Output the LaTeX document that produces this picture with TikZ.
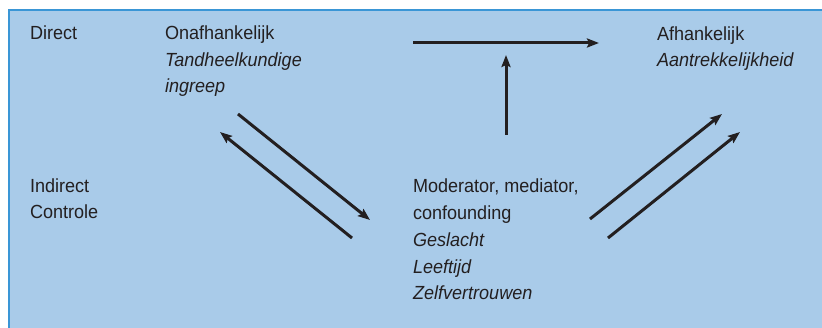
\documentclass[tikz,border=0pt]{standalone}
\usepackage{fontspec}
\setmainfont{Liberation Sans}[FakeStretch=0.95]
\usetikzlibrary{arrows.meta}
\definecolor{panelfill}{HTML}{A9CBE9}
\definecolor{panelborder}{HTML}{3A96D6}
\definecolor{ink}{HTML}{231F20}
\tikzset{
  lbl/.style={anchor=base west, inner sep=0pt, outer sep=0pt, text=ink,
    font=\fontsize{19}{26.8}\selectfont, align=left},
  arr/.style={draw=ink, line width=3pt, -{Stealth[length=12pt,width=9pt,inset=2pt]}},
}
\begin{document}
\begin{tikzpicture}[x=1pt,y=-1pt]
\useasboundingbox (0,0) rectangle (822,328);
\fill[panelfill] (9,10) rectangle (822,328);
\draw[panelborder, line width=2pt] (9,328) -- (9,10) -- (822,10);

% multi-line nodes are placed by the baseline of their last line
\node[lbl] (direct) at (30,40) {Direct};
\node[lbl] (indirect) at (30,219) {Indirect\\Controle};
\node[lbl] (onaf) at (165,93) {Onafhankelijk\\\textit{Tandheelkundige}\\\textit{ingreep}};
\node[lbl] (afh) at (657,67) {Afhankelijk\\\textit{Aantrekkelijkheid}};
\node[lbl] (mod) at (413,300) {Moderator, mediator,\\confounding\\\textit{Geslacht}\\\textit{Leeftijd}\\\textit{Zelfvertrouwen}};

\coordinate (h1) at (413,43);
\coordinate (h2) at (599,43);
\coordinate (v1) at (506,135);
\coordinate (v2) at (506,55);
\coordinate (a1) at (238,114);
\coordinate (a2) at (370,220);
\coordinate (b1) at (352,238);
\coordinate (b2) at (220,132);
\coordinate (c1) at (590,219);
\coordinate (c2) at (722,114);
\coordinate (d1) at (608,238);
\coordinate (d2) at (740,132);

\draw[arr] (h1) -- (h2);
\draw[arr] (v1) -- (v2);
\draw[arr] (a1) -- (a2);
\draw[arr] (b1) -- (b2);
\draw[arr] (c1) -- (c2);
\draw[arr] (d1) -- (d2);
\end{tikzpicture}
\end{document}
